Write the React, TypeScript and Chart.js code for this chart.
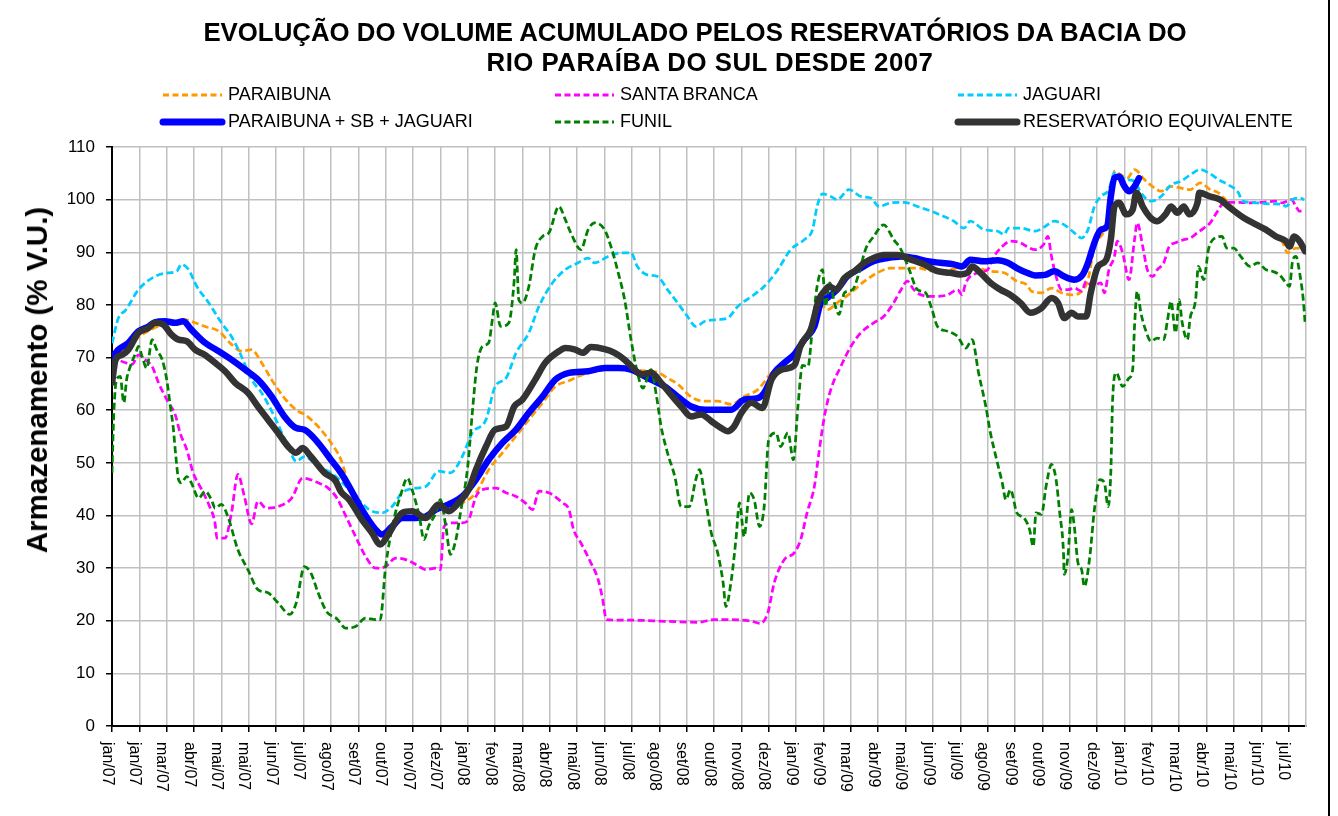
import React, { useEffect, useRef } from 'react';
import { Chart, registerables } from 'chart.js';

Chart.register(...registerables);

const FONT = "'Liberation Sans', Arial, Helvetica, sans-serif";

const chartTitleLines = [
  'EVOLUÇÃO DO VOLUME ACUMULADO PELOS RESERVATÓRIOS DA BACIA DO',
  'RIO PARAÍBA DO SUL DESDE 2007',
];
const yAxisTitle = 'Armazenamento (% V.U.)';

// x axis: days since 01/jan/2007, one tick every 30 days
const X_TICK_STEP_DAYS = 30;
const X_MAX_DAYS = 1309;
const xTickLabels = [
  'jan/07', 'jan/07', 'mar/07', 'abr/07', 'mai/07', 'mai/07', 'jun/07', 'jul/07', 'ago/07', 'set/07', 'out/07', 'nov/07', 'dez/07',
  'jan/08', 'fev/08', 'mar/08', 'abr/08', 'mai/08', 'jun/08', 'jul/08', 'ago/08', 'set/08', 'out/08', 'nov/08', 'dez/08',
  'jan/09', 'fev/09', 'mar/09', 'abr/09', 'mai/09', 'jun/09', 'jul/09', 'ago/09', 'set/09', 'out/09', 'nov/09', 'dez/09',
  'jan/10', 'fev/10', 'mar/10', 'abr/10', 'mai/10', 'jun/10', 'jul/10',
];
const Y_MIN = 0;
const Y_MAX = 110;
const Y_STEP = 10;

const paraibunaDays = [0, 10, 20, 30, 45, 60, 75, 80, 91, 102, 117, 131, 142, 153, 164, 175, 189, 204, 211, 226, 240, 251, 260, 274, 289, 296, 307, 318, 333, 344, 355, 369, 384, 399, 413, 428, 443, 457, 472, 486, 501, 514, 533, 551, 569, 587, 598, 610, 620, 635, 650, 664, 679, 693, 708, 723, 737, 748, 759, 770, 777, 784, 795, 810, 825, 839, 854, 868, 883, 901, 919, 934, 949, 963, 978, 992, 1003, 1008, 1019, 1030, 1041, 1052, 1063, 1070, 1077, 1088, 1095, 1099, 1106, 1113, 1121, 1132, 1143, 1150, 1161, 1172, 1182, 1193, 1204, 1213, 1219, 1230, 1241, 1254, 1265, 1276, 1283, 1289, 1298, 1307];
const paraibunaValues = [69.0, 71.0, 72.3, 74.0, 75.5, 76.5, 77.0, 77.2, 76.6, 75.9, 75.0, 72.5, 71.2, 71.5, 69.0, 65.8, 62.3, 59.8, 59.2, 56.9, 53.8, 50.6, 45.5, 41.0, 37.0, 36.0, 37.5, 39.2, 39.2, 39.5, 40.8, 41.8, 42.4, 44.3, 48.7, 51.9, 55.1, 58.2, 61.4, 64.5, 65.6, 66.6, 67.5, 67.7, 67.7, 67.4, 67.2, 66.0, 65.0, 62.5, 61.7, 61.7, 61.1, 62.6, 63.9, 67.1, 69.0, 69.6, 72.9, 75.4, 80.1, 79.1, 80.4, 82.3, 84.5, 86.1, 87.0, 87.0, 87.0, 86.4, 86.7, 87.3, 87.0, 86.4, 86.1, 84.5, 83.8, 82.6, 82.3, 83.2, 82.3, 81.9, 82.6, 84.8, 91.1, 94.3, 100.0, 105.4, 104.7, 104.1, 105.7, 103.8, 102.2, 101.6, 102.5, 102.2, 101.9, 103.2, 101.9, 101.3, 100.3, 98.3, 96.8, 95.4, 94.5, 93.2, 92.0, 89.9, 90.8, 90.5];

const santaBrancaDays = [0, 7, 15, 22, 29, 36, 44, 51, 62, 69, 75, 82, 89, 98, 107, 113, 115, 124, 131, 138, 145, 153, 160, 169, 182, 197, 209, 226, 237, 247, 256, 267, 278, 289, 300, 311, 322, 333, 344, 355, 360, 364, 373, 384, 391, 399, 406, 421, 432, 443, 453, 461, 468, 479, 494, 501, 506, 514, 525, 533, 538, 542, 569, 606, 642, 660, 679, 701, 711, 719, 726, 737, 748, 755, 762, 770, 775, 781, 788, 799, 810, 821, 835, 846, 857, 865, 872, 879, 887, 901, 916, 927, 932, 936, 949, 960, 967, 976, 985, 996, 1006, 1012, 1021, 1026, 1030, 1035, 1041, 1048, 1055, 1063, 1068, 1075, 1084, 1088, 1093, 1099, 1102, 1108, 1115, 1121, 1124, 1130, 1135, 1141, 1146, 1153, 1159, 1166, 1175, 1182, 1190, 1197, 1204, 1212, 1219, 1234, 1248, 1262, 1275, 1283, 1293, 1298, 1302, 1308];
const santaBrancaValues = [70.5, 69.6, 69.0, 68.7, 70.5, 69.6, 68.3, 65.2, 61.4, 59.3, 55.5, 52.5, 48.1, 45.0, 41.7, 38.5, 35.7, 35.7, 40.5, 47.8, 43.7, 38.4, 42.7, 41.4, 41.7, 43.3, 47.1, 46.2, 45.2, 43.2, 40.0, 36.0, 32.2, 30.0, 30.3, 31.9, 31.6, 30.7, 29.7, 30.0, 29.7, 37.9, 38.6, 38.6, 39.2, 43.6, 44.9, 45.2, 44.3, 43.6, 42.4, 41.1, 44.6, 44.3, 42.4, 41.1, 37.3, 34.8, 31.0, 27.8, 24.0, 20.2, 20.1, 19.9, 19.7, 20.2, 20.2, 19.9, 19.5, 21.5, 27.2, 31.6, 32.9, 35.4, 40.5, 45.5, 51.9, 58.8, 63.9, 68.3, 72.1, 74.7, 76.6, 77.8, 80.4, 82.9, 84.5, 82.9, 81.9, 81.6, 81.9, 82.9, 81.9, 84.2, 86.1, 86.7, 89.2, 91.1, 92.1, 91.8, 90.8, 90.5, 91.4, 93.0, 89.2, 85.4, 82.9, 82.9, 83.2, 82.6, 84.5, 83.5, 84.2, 82.3, 86.7, 89.2, 92.1, 89.9, 84.8, 92.4, 95.6, 91.1, 86.7, 85.4, 86.7, 88.0, 91.1, 91.8, 92.4, 92.7, 93.7, 94.6, 95.6, 97.8, 99.4, 99.5, 99.4, 99.5, 99.7, 99.4, 100.0, 98.7, 97.8, 97.8];

const jaguariDays = [0, 7, 15, 29, 47, 62, 71, 76, 84, 93, 106, 120, 131, 142, 153, 164, 178, 193, 202, 211, 226, 240, 251, 267, 282, 296, 307, 318, 333, 344, 358, 371, 384, 395, 410, 420, 432, 443, 457, 468, 483, 497, 511, 522, 529, 544, 558, 569, 576, 587, 598, 609, 620, 631, 640, 650, 664, 675, 686, 701, 715, 730, 744, 759, 768, 773, 779, 788, 795, 808, 821, 832, 841, 854, 868, 883, 898, 912, 923, 934, 941, 956, 971, 978, 983, 996, 1012, 1023, 1033, 1044, 1055, 1063, 1070, 1077, 1084, 1093, 1099, 1106, 1113, 1121, 1128, 1139, 1150, 1161, 1172, 1182, 1193, 1204, 1213, 1224, 1235, 1239, 1254, 1269, 1283, 1287, 1294, 1302, 1307];
const jaguariValues = [72.7, 77.5, 79.0, 82.9, 85.4, 86.1, 86.4, 87.7, 86.7, 83.5, 80.4, 76.6, 74.0, 70.2, 65.8, 63.3, 58.8, 53.1, 50.3, 51.2, 49.3, 48.1, 46.5, 43.6, 41.1, 40.5, 41.7, 44.3, 45.2, 45.5, 48.4, 48.1, 51.2, 55.7, 58.2, 64.5, 66.1, 70.9, 74.7, 79.7, 84.2, 86.7, 88.0, 88.9, 88.0, 89.2, 89.9, 89.9, 87.3, 85.7, 85.4, 82.9, 80.4, 77.8, 75.9, 76.9, 77.2, 77.5, 79.7, 81.6, 83.5, 86.7, 90.5, 92.4, 94.3, 98.7, 101.1, 100.6, 100.0, 101.9, 100.6, 100.3, 98.7, 99.4, 99.5, 98.7, 97.8, 96.8, 95.9, 94.6, 95.9, 94.3, 94.0, 93.4, 94.6, 94.6, 94.0, 94.9, 95.9, 95.2, 93.7, 92.7, 94.3, 98.7, 100.6, 101.9, 105.1, 104.4, 103.8, 103.5, 101.3, 99.7, 100.6, 102.8, 103.5, 104.7, 105.7, 104.9, 103.8, 102.8, 101.3, 99.8, 99.4, 99.2, 99.1, 98.7, 100.0, 100.3, 100.0];

const somaDays = [0, 7, 18, 29, 40, 47, 58, 69, 78, 87, 102, 117, 131, 146, 160, 175, 189, 202, 211, 226, 240, 251, 260, 274, 289, 296, 307, 318, 333, 344, 355, 369, 384, 399, 413, 428, 443, 457, 472, 486, 501, 522, 540, 555, 569, 580, 591, 606, 620, 635, 650, 664, 679, 693, 708, 715, 726, 737, 748, 759, 770, 777, 784, 795, 806, 821, 835, 850, 865, 879, 894, 908, 923, 932, 941, 956, 971, 982, 992, 1003, 1012, 1023, 1033, 1044, 1055, 1064, 1070, 1077, 1084, 1091, 1095, 1099, 1104, 1110, 1115, 1121, 1126];
const somaValues = [69.9, 71.5, 72.8, 75.0, 75.9, 76.7, 76.9, 76.6, 76.9, 75.3, 72.8, 71.2, 69.6, 67.7, 65.8, 62.6, 58.8, 56.6, 56.3, 53.8, 50.6, 48.1, 45.5, 41.1, 37.3, 36.4, 37.9, 39.5, 39.5, 39.8, 41.1, 42.1, 43.6, 46.8, 50.6, 53.8, 56.3, 59.5, 62.6, 65.8, 67.1, 67.4, 68.0, 68.0, 67.7, 66.8, 65.8, 64.5, 62.6, 60.7, 60.1, 60.1, 60.1, 62.0, 62.3, 63.3, 67.1, 69.0, 70.6, 73.4, 75.9, 80.4, 81.3, 82.9, 85.4, 87.0, 88.3, 88.9, 89.2, 88.9, 88.3, 88.0, 87.7, 87.3, 88.6, 88.3, 88.5, 88.0, 87.0, 86.1, 85.6, 85.7, 86.4, 85.4, 84.8, 85.7, 88.0, 91.8, 94.3, 94.9, 100.6, 104.1, 104.4, 102.5, 101.6, 102.5, 104.1];

const funilDays = [0, 2, 5, 9, 13, 16, 20, 26, 29, 33, 38, 44, 49, 55, 60, 64, 67, 70, 73, 76, 82, 87, 95, 102, 109, 113, 120, 127, 138, 149, 160, 171, 182, 195, 202, 211, 218, 226, 235, 247, 256, 267, 278, 289, 294, 300, 309, 316, 324, 329, 337, 342, 347, 355, 360, 366, 371, 377, 382, 390, 395, 400, 406, 413, 417, 420, 426, 435, 441, 443, 446, 450, 457, 464, 472, 479, 490, 497, 503, 514, 522, 529, 540, 547, 555, 562, 569, 576, 582, 591, 597, 602, 609, 617, 624, 633, 640, 644, 650, 657, 664, 670, 673, 679, 684, 688, 693, 699, 704, 710, 715, 720, 728, 733, 741, 747, 752, 757, 763, 768, 773, 779, 782, 787, 792, 797, 803, 812, 819, 826, 835, 846, 857, 865, 874, 883, 892, 899, 905, 916, 927, 936, 943, 950, 958, 963, 969, 976, 980, 985, 992, 1000, 1006, 1010, 1013, 1019, 1024, 1030, 1035, 1039, 1043, 1044, 1048, 1052, 1055, 1059, 1063, 1066, 1072, 1077, 1083, 1088, 1092, 1095, 1097, 1101, 1108, 1115, 1119, 1121, 1124, 1128, 1133, 1139, 1146, 1153, 1157, 1161, 1166, 1170, 1173, 1179, 1182, 1188, 1191, 1197, 1202, 1209, 1217, 1222, 1230, 1237, 1248, 1256, 1265, 1272, 1280, 1287, 1291, 1294, 1298, 1302, 1306, 1308];
const funilValues = [48.1, 59.5, 65.8, 66.4, 61.4, 65.8, 68.3, 70.9, 72.1, 70.2, 68.0, 73.4, 71.5, 69.6, 65.8, 60.7, 56.9, 51.2, 46.8, 46.2, 47.4, 46.2, 43.3, 44.6, 43.0, 41.4, 42.1, 39.8, 33.5, 29.7, 25.9, 25.3, 23.4, 21.2, 23.4, 30.3, 29.1, 25.3, 21.8, 20.3, 18.6, 18.9, 20.5, 20.2, 20.2, 30.3, 39.2, 43.6, 47.1, 44.9, 39.8, 35.4, 37.9, 40.5, 43.0, 37.9, 32.6, 35.4, 40.5, 49.3, 59.5, 68.3, 72.1, 72.8, 77.2, 80.4, 75.9, 76.6, 84.8, 90.5, 81.0, 80.4, 83.5, 90.5, 93.0, 93.7, 98.7, 96.2, 93.7, 90.5, 94.3, 95.6, 94.3, 91.1, 86.1, 81.0, 73.4, 67.1, 64.2, 67.7, 62.6, 56.9, 51.9, 47.4, 41.7, 41.7, 46.8, 48.7, 43.6, 36.7, 32.9, 27.2, 22.7, 27.8, 35.4, 42.4, 36.0, 44.3, 43.0, 37.9, 41.7, 54.4, 55.7, 53.1, 55.7, 50.6, 60.7, 68.5, 68.3, 75.9, 83.5, 86.7, 79.7, 84.2, 80.4, 78.2, 82.3, 82.9, 86.1, 90.5, 93.0, 95.2, 92.4, 90.5, 86.7, 82.9, 82.3, 79.1, 75.9, 75.0, 74.0, 71.8, 73.4, 67.1, 60.7, 55.7, 51.2, 46.2, 43.0, 44.9, 40.5, 39.5, 37.3, 34.1, 40.5, 40.2, 45.5, 49.7, 46.8, 40.5, 33.5, 28.8, 32.2, 41.1, 37.9, 31.0, 29.7, 26.5, 32.2, 41.1, 46.8, 46.2, 41.7, 48.1, 62.0, 67.1, 64.5, 66.1, 67.7, 75.9, 82.6, 78.5, 75.3, 73.1, 73.7, 73.4, 76.9, 80.7, 74.7, 81.0, 76.9, 73.4, 77.5, 81.0, 87.3, 84.8, 90.5, 92.7, 93.0, 90.8, 90.8, 89.3, 87.3, 88.0, 86.7, 86.4, 85.7, 84.2, 83.5, 88.0, 89.2, 86.1, 81.0, 76.6];

const equivalenteDays = [0, 4, 11, 18, 29, 40, 47, 56, 65, 73, 82, 91, 102, 113, 124, 135, 149, 160, 171, 182, 193, 202, 209, 218, 233, 245, 251, 260, 274, 285, 294, 304, 318, 329, 344, 358, 369, 380, 391, 399, 410, 420, 432, 441, 450, 464, 475, 490, 497, 508, 516, 525, 540, 551, 562, 573, 580, 591, 602, 613, 624, 635, 646, 657, 668, 675, 682, 690, 701, 713, 723, 734, 748, 755, 766, 775, 781, 786, 794, 803, 814, 825, 835, 846, 861, 876, 890, 905, 919, 930, 938, 943, 952, 963, 974, 985, 996, 1007, 1019, 1030, 1037, 1044, 1052, 1059, 1068, 1073, 1081, 1090, 1095, 1099, 1104, 1112, 1119, 1123, 1130, 1139, 1146, 1155, 1161, 1168, 1175, 1181, 1190, 1192, 1204, 1215, 1226, 1241, 1255, 1265, 1276, 1287, 1291, 1296, 1302, 1308];
const equivalenteValues = [65.2, 69.6, 70.5, 71.5, 74.7, 75.6, 76.6, 76.3, 74.4, 73.4, 73.1, 71.5, 70.5, 69.0, 67.4, 65.2, 63.3, 60.7, 58.2, 55.7, 53.1, 51.9, 52.8, 51.2, 48.1, 46.6, 44.5, 43.0, 39.2, 36.7, 34.5, 36.7, 40.5, 40.8, 39.5, 42.1, 40.8, 42.4, 44.9, 48.7, 53.1, 56.3, 56.9, 60.7, 62.0, 65.8, 69.0, 71.2, 71.8, 71.5, 70.9, 72.0, 71.6, 70.9, 69.6, 67.7, 66.8, 67.1, 65.2, 62.9, 60.7, 58.8, 59.2, 57.9, 56.6, 56.0, 56.9, 59.5, 61.4, 60.4, 65.8, 67.7, 68.5, 72.3, 75.3, 81.0, 82.6, 83.5, 82.9, 85.1, 86.4, 88.0, 88.9, 89.5, 89.5, 88.6, 87.7, 86.4, 86.1, 85.8, 86.1, 87.3, 86.1, 84.2, 82.9, 81.9, 80.4, 78.5, 79.4, 81.3, 80.4, 77.5, 78.5, 77.8, 77.8, 82.3, 87.3, 88.6, 92.4, 98.7, 99.4, 97.2, 98.1, 101.3, 98.7, 96.5, 95.9, 97.2, 98.7, 97.5, 98.7, 97.2, 99.4, 101.3, 100.6, 100.0, 98.4, 96.5, 95.2, 94.3, 93.0, 92.1, 91.1, 93.0, 92.1, 90.2];

type SeriesStyle = { label: string; color: string; width: number; dashed: boolean };

const seriesStyles: SeriesStyle[] = [
  { label: 'PARAIBUNA', color: '#FF9900', width: 2.75, dashed: true },
  { label: 'SANTA BRANCA', color: '#FF00FF', width: 2.75, dashed: true },
  { label: 'JAGUARI', color: '#00CCFF', width: 2.75, dashed: true },
  { label: 'PARAIBUNA + SB + JAGUARI', color: '#0000FF', width: 6.5, dashed: false },
  { label: 'FUNIL', color: '#008000', width: 2.75, dashed: true },
  { label: 'RESERVATÓRIO EQUIVALENTE', color: '#333333', width: 6.5, dashed: false },
];

const seriesData: [number[], number[]][] = [
  [paraibunaDays, paraibunaValues],
  [santaBrancaDays, santaBrancaValues],
  [jaguariDays, jaguariValues],
  [somaDays, somaValues],
  [funilDays, funilValues],
  [equivalenteDays, equivalenteValues],
];

const DASH = [7, 3.5];

const xLabelPlugin = {
  id: 'rotatedXLabels',
  afterDraw(chart: any) {
    const s = chart.scales.x;
    const ctx = chart.ctx;
    ctx.save();
    ctx.font = `16px ${FONT}`;
    ctx.fillStyle = '#000';
    ctx.textAlign = 'left';
    ctx.textBaseline = 'middle';
    s.ticks.forEach((t: any) => {
      const idx = Math.round(t.value / X_TICK_STEP_DAYS);
      const label = xTickLabels[idx];
      if (label === undefined) return;
      const x = s.getPixelForValue(t.value);
      ctx.save();
      ctx.translate(x - 5, s.top + 16);
      ctx.rotate(Math.PI / 2);
      ctx.fillText(label, 0, 0);
      ctx.restore();
    });
    ctx.restore();
  },
};

const legendCols = [163, 555, 958];
const legendRows = [95, 122];
const titleLineCenters = [695, 710];

export default function App() {
  const canvasRef = useRef<HTMLCanvasElement>(null);

  useEffect(() => {
    const canvas = canvasRef.current;
    if (!canvas) return;
    const datasets = seriesStyles.map((st, i) => {
      const [days, vals] = seriesData[i];
      return {
        label: st.label,
        data: days.map((d, k) => ({ x: d, y: vals[k] })),
        borderColor: st.color,
        backgroundColor: st.color,
        borderWidth: st.width,
        borderDash: st.dashed ? DASH : [],
        borderCapStyle: st.dashed ? 'butt' : 'round',
        borderJoinStyle: 'round',
        pointRadius: 0,
        fill: false,
        cubicInterpolationMode: 'monotone',
        order: seriesStyles.length - i,
      };
    });
    const chart = new Chart(canvas, {
      type: 'line',
      data: { datasets: datasets as any },
      plugins: [xLabelPlugin],
      options: {
        animation: false,
        responsive: false,
        maintainAspectRatio: false,
        events: [],
        layout: { padding: { left: 0, right: 32, top: 147, bottom: 0 } },
        plugins: {
          legend: { display: false },
          title: { display: false },
          tooltip: { enabled: false },
        },
        scales: {
          x: {
            type: 'linear',
            min: 0,
            max: X_MAX_DAYS,
            ticks: {
              display: false,
              stepSize: X_TICK_STEP_DAYS,
              maxTicksLimit: 200,
              includeBounds: false,
              autoSkip: false,
            },
            grid: {
              color: '#C0C0C0',
              lineWidth: 1.5,
              tickColor: '#000000',
              tickWidth: 1.5,
              tickLength: 6,
              drawTicks: true,
            },
            border: { color: '#000000', width: 2 },
            afterFit: (s: any) => {
              s.height = 90;
            },
          },
          y: {
            type: 'linear',
            min: Y_MIN,
            max: Y_MAX,
            ticks: {
              stepSize: Y_STEP,
              maxTicksLimit: 50,
              color: '#000000',
              padding: 11,
              font: { family: FONT, size: 17 },
            },
            grid: {
              color: '#C0C0C0',
              lineWidth: 1.5,
              tickColor: '#000000',
              tickWidth: 1.5,
              tickLength: 6,
              drawTicks: true,
            },
            border: { color: '#000000', width: 2 },
            afterFit: (s: any) => {
              s.width = 112;
            },
          },
          yRight: {
            type: 'linear',
            position: 'right',
            min: Y_MIN,
            max: Y_MAX,
            ticks: { display: false },
            grid: { display: false, drawTicks: false },
            border: { display: true, color: '#C0C0C0', width: 1.5 },
            afterFit: (s: any) => {
              s.width = 0;
            },
          },
        },
      } as any,
    });
    return () => {
      chart.destroy();
    };
  }, []);

  return (
    <div
      style={{
        position: 'absolute',
        left: 0,
        top: 0,
        width: 1338,
        height: 816,
        overflow: 'hidden',
        background: '#ffffff',
        fontFamily: FONT,
      }}
    >
      <canvas
        ref={canvasRef}
        width={1338}
        height={816}
        style={{ position: 'absolute', left: 0, top: 0, width: 1338, height: 816, display: 'block' }}
      />
      {chartTitleLines.map((t, i) => (
        <div
          key={t}
          style={{
            position: 'absolute',
            left: titleLineCenters[i] - 600,
            top: 17 + i * 30,
            width: 1200,
            textAlign: 'center',
            fontWeight: 'bold',
            fontSize: 25.8,
            letterSpacing: i === 1 ? '0.5px' : '0px',
            lineHeight: '30px',
            color: '#000',
            whiteSpace: 'nowrap',
          }}
        >
          {t}
        </div>
      ))}
      {seriesStyles.map((st, i) => {
        const col = legendCols[i % 3];
        const rowY = legendRows[Math.floor(i / 3)];
        return (
          <div key={st.label}>
            <svg
              width={60}
              height={14}
              style={{ position: 'absolute', left: col, top: rowY - 7, overflow: 'visible' }}
            >
              <line
                x1={0}
                y1={7}
                x2={59}
                y2={7}
                stroke={st.color}
                strokeWidth={st.dashed ? 3 : 7}
                strokeDasharray={st.dashed ? '6 3.5' : undefined}
                strokeLinecap={st.dashed ? 'butt' : 'round'}
              />
            </svg>
            <div
              style={{
                position: 'absolute',
                left: col + 65,
                top: rowY - 11,
                fontSize: 18,
                lineHeight: '20px',
                color: '#000',
                whiteSpace: 'nowrap',
              }}
            >
              {st.label}
            </div>
          </div>
        );
      })}
      <div
        style={{
          position: 'absolute',
          left: 37,
          top: 380,
          transform: 'translate(-50%, -50%) rotate(-90deg)',
          fontWeight: 'bold',
          fontSize: 29.5,
          lineHeight: '32px',
          color: '#000',
          whiteSpace: 'nowrap',
        }}
      >
        {yAxisTitle}
      </div>
      <div style={{ position: 'absolute', left: 1328, top: 0, width: 2, height: 816, background: '#000' }} />
    </div>
  );
}
